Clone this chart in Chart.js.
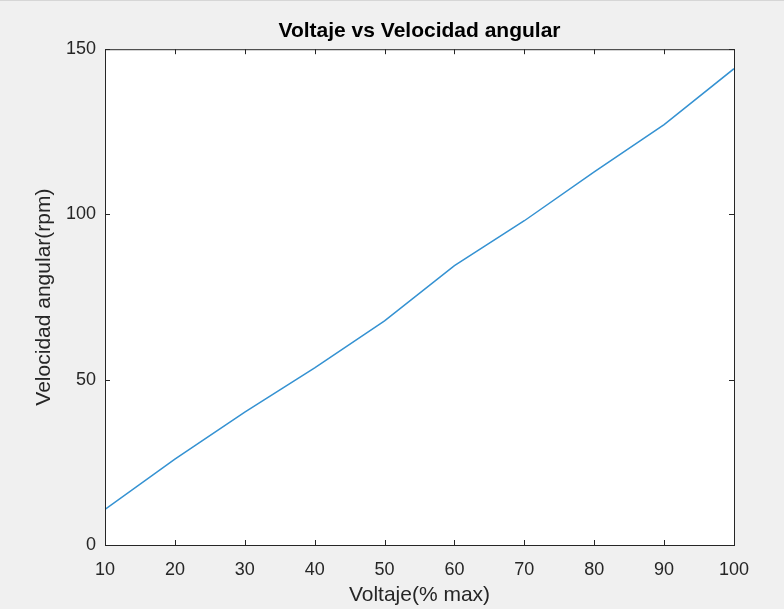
<!DOCTYPE html>
<html>
<head>
<meta charset="utf-8">
<script src="https://cdn.jsdelivr.net/npm/chart.js@4"></script>
<style>
  html, body { margin: 0; padding: 0; background: #f0f0f0; }
  #wrap { width: 784px; height: 609px; border-top: 1px solid #d6d6d6; box-sizing: border-box; }
</style>
</head>
<body>
<div id="wrap"><canvas id="chart" width="784" height="608"></canvas></div>
<script>
const voltaje = [10, 20, 30, 40, 50, 60, 70, 80, 90, 100];
const velocidad = [10.8, 26.0, 40.2, 53.6, 67.8, 84.5, 98.1, 112.9, 127.2, 144.1];
const xTicks = [10, 20, 30, 40, 50, 60, 70, 80, 90, 100];
const yTicks = [0, 50, 100, 150];

const axisColor = "#262626";

// white axes background plus matlab style box with inward ticks
const boxPlugin = {
  id: "box",
  beforeDraw(chart) {
    const a = chart.chartArea;
    const ctx = chart.ctx;
    ctx.save();
    ctx.fillStyle = "#ffffff";
    ctx.fillRect(a.left, a.top, a.right - a.left, a.bottom - a.top);
    ctx.restore();
  },
  afterDraw(chart) {
    const a = chart.chartArea;
    const ctx = chart.ctx;
    const xs = chart.scales.x, ys = chart.scales.y;
    ctx.save();
    ctx.strokeStyle = axisColor;
    ctx.lineWidth = 1;
    ctx.strokeRect(a.left + 0.5, a.top + 0.5, a.right - a.left, a.bottom - a.top);
    ctx.beginPath();
    xTicks.forEach(v => {
      const px = Math.round(xs.getPixelForValue(v)) + 0.5;
      ctx.moveTo(px, a.bottom); ctx.lineTo(px, a.bottom - 5);
      ctx.moveTo(px, a.top); ctx.lineTo(px, a.top + 5);
    });
    yTicks.forEach(v => {
      const py = Math.round(ys.getPixelForValue(v)) + 0.5;
      ctx.moveTo(a.left, py); ctx.lineTo(a.left + 5, py);
      ctx.moveTo(a.right, py); ctx.lineTo(a.right - 5, py);
    });
    ctx.stroke();
    ctx.restore();
  }
};

new Chart(document.getElementById("chart"), {
  type: "line",
  data: {
    datasets: [{
      data: voltaje.map((v, i) => ({ x: v, y: velocidad[i] })),
      borderColor: "#3592d2",
      borderWidth: 1.5,
      pointRadius: 0,
      tension: 0,
    }]
  },
  options: {
    responsive: false,
    animation: false,
    layout: { padding: { top: 0, right: 50, left: 0, bottom: 0 } },
    plugins: {
      legend: { display: false },
      tooltip: { enabled: false },
      title: {
        display: true,
        fullSize: false,
        text: "Voltaje vs Velocidad angular",
        color: "#000000",
        font: { family: "Liberation Sans", size: 21, weight: "bold" },
        padding: { top: 18, bottom: 5 },
      },
    },
    scales: {
      x: {
        type: "linear",
        min: 10, max: 100,
        afterFit: s => { s.height = 64; },
        afterBuildTicks: s => { s.ticks = xTicks.map(v => ({ value: v })); },
        grid: { display: false, drawTicks: false },
        border: { display: false },
        ticks: { color: axisColor, padding: 14, font: { family: "Liberation Sans", size: 18 } },
        title: {
          display: true, text: "Voltaje(% max)", color: axisColor,
          font: { family: "Liberation Sans", size: 21 }, padding: { top: 0, bottom: 1 },
        },
      },
      y: {
        type: "linear",
        min: 0, max: 150,
        afterFit: s => { s.width = 105; },
        afterBuildTicks: s => { s.ticks = yTicks.map(v => ({ value: v })); },
        grid: { display: false, drawTicks: false },
        border: { display: false },
        ticks: { color: axisColor, padding: 9, font: { family: "Liberation Sans", size: 18 } },
        title: {
          display: true, text: "Velocidad angular(rpm)", color: axisColor,
          font: { family: "Liberation Sans", size: 21 }, padding: { top: 32, bottom: 0 },
        },
      },
    },
  },
  plugins: [boxPlugin],
});
</script>
</body>
</html>
